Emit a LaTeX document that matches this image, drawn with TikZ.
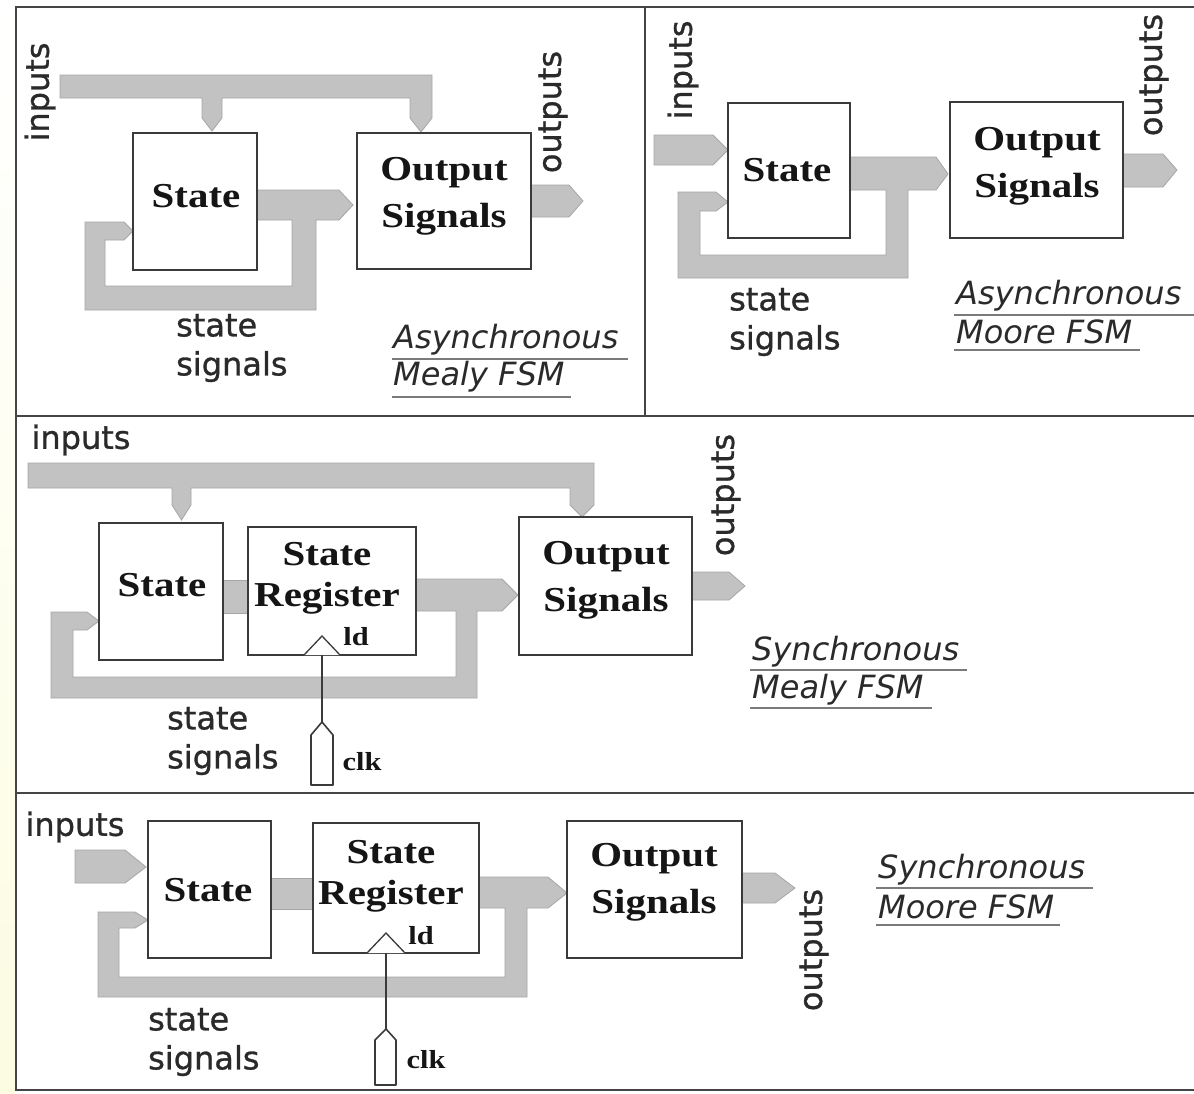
\documentclass[tikz,border=0pt]{standalone}
\usepackage{fontspec}
\setmainfont{Liberation Serif}
\newfontfamily\sansf[FakeBold=0.9]{DejaVu Sans}
\newfontfamily\ttlf{DejaVu Sans}
\newfontfamily\boxf[FakeStretch=1.17]{Liberation Serif}
\definecolor{busgray}{HTML}{C2C2C2}
\definecolor{busedge}{HTML}{A6A6A6}
\definecolor{boxc}{HTML}{3A3A3A}
\definecolor{framec}{HTML}{454545}
\definecolor{txt}{HTML}{151515}
\definecolor{txtb}{HTML}{2A2A2A}
\definecolor{ulc}{HTML}{7A7A7A}
\tikzset{
  bus/.style={fill=busgray, draw=busedge, line width=0.8pt, line join=miter},
  blk/.style={draw=boxc, line width=2pt, fill=white, inner sep=0pt},
  blktxt/.style={font=\boxf\bfseries\fontsize{35}{47}\selectfont, align=center, text=txt, inner sep=0pt},
  regtxt/.style={font=\boxf\bfseries\fontsize{35}{41}\selectfont, align=center, text=txt, inner sep=0pt},
  lbl/.style={font=\sansf\fontsize{32}{39}\selectfont, text=txtb, inner sep=0pt, align=left},
  ttl/.style={font=\ttlf\itshape\fontsize{32}{38}\selectfont, text=txtb, inner sep=0pt, anchor=west},
  smalltxt/.style={font=\boxf\bfseries\fontsize{26}{30}\selectfont, text=txt, inner sep=0pt},
  uline/.style={draw=ulc, line width=1.8pt},
  frame/.style={draw=framec, line width=2.5pt},
  clkline/.style={draw=boxc, line width=1.3pt},
  clkpin/.style={draw=boxc, line width=1.6pt, fill=white, line join=round},
}
\begin{document}
\begin{tikzpicture}[x=1pt,y=-1pt]
\useasboundingbox (0,0) rectangle (1194,1093);
\fill[white] (0,0) rectangle (1194,1093);
\shade[top color=white, middle color={rgb,255:red,226;green,242;blue,248}, bottom color={rgb,255:red,252;green,252;blue,226}] (0,0) rectangle (15,1093);

% ---------- frame ----------
\draw[frame] (16,7) -- (1194,7);
\draw[frame] (16,6) -- (16,1091);
\draw[frame] (16,1090) -- (1194,1090);
\draw[frame] (16,416) -- (1194,416);
\draw[frame] (16,793) -- (1194,793);
\draw[frame] (645,7) -- (645,416);

% ================= Panel 1: Asynchronous Mealy =================
\draw[bus] (60,75) -- (432,75) -- (432,118) -- (421,132) -- (410,118) -- (410,98)
  -- (222,98) -- (222,118) -- (212,131) -- (202,118) -- (202,98) -- (60,98) -- cycle;
\draw[bus] (257,190) -- (339,190) -- (353,205) -- (339,220) -- (316,220) -- (316,310)
  -- (85,310) -- (85,222) -- (124,222) -- (133,231) -- (124,240) -- (105,240)
  -- (105,286) -- (292,286) -- (292,220) -- (257,220) -- cycle;
\draw[bus] (531,185) -- (569,185) -- (583,201) -- (569,217) -- (531,217) -- cycle;
\node[blk, minimum width=124, minimum height=137] (st1) at (195,201.5) {};
\node[blk, minimum width=174, minimum height=136] (out1) at (444,201) {};
\node[blktxt] (st1t) at (196,196) {State};
\node[blktxt] (out1t) at (444,196) {Output\\Signals};
\node[lbl, rotate=90] (in1) at (40,92) {inputs};
\node[lbl, rotate=90] (o1) at (553,112) {outputs};
\node[lbl, anchor=west] (ss1) at (176,348) {state\\signals};
\node[ttl] (t1a) at (393,340) {Asynchronous};
\node[ttl] (t1b) at (393,377) {Mealy FSM};
\draw[uline] (392,359) -- (628,359);
\draw[uline] (392,397) -- (571,397);

% ================= Panel 2: Asynchronous Moore =================
\draw[bus] (654,135) -- (713,135) -- (728,150) -- (713,165) -- (654,165) -- cycle;
\draw[bus] (850,157) -- (936,157) -- (948,174) -- (936,190) -- (908,190) -- (908,278)
  -- (678,278) -- (678,192) -- (716,192) -- (728,202) -- (716,211) -- (700,211)
  -- (700,255) -- (886,255) -- (886,190) -- (850,190) -- cycle;
\draw[bus] (1123,154) -- (1163,154) -- (1177,170) -- (1163,187) -- (1123,187) -- cycle;
\node[blk, minimum width=122, minimum height=135] (st2) at (789,170.5) {};
\node[blk, minimum width=173, minimum height=136] (out2) at (1036.5,170) {};
\node[blktxt] (st2t) at (787,170) {State};
\node[blktxt] (out2t) at (1037,166) {Output\\Signals};
\node[lbl, rotate=90] (in2) at (683,70) {inputs};
\node[lbl, rotate=90] (o2) at (1154,75) {outputs};
\node[lbl, anchor=west] (ss2) at (729,322) {state\\signals};
\node[ttl] (t2a) at (956,296) {Asynchronous};
\node[ttl] (t2b) at (956,332) {Moore FSM};
\draw[uline] (954,315) -- (1194,315);
\draw[uline] (954,350) -- (1140,350);

% ================= Panel 3: Synchronous Mealy =================
\draw[bus] (28,463) -- (594,463) -- (594,505) -- (582,517) -- (570,505) -- (570,488)
  -- (191,488) -- (191,505) -- (181.5,520) -- (172,505) -- (172,488) -- (28,488) -- cycle;
\draw[bus] (223,580) -- (250,580) -- (250,613) -- (223,613) -- cycle;
\draw[bus] (416,579) -- (502,579) -- (518,595) -- (502,611) -- (477,611) -- (477,698)
  -- (51,698) -- (51,612) -- (87,612) -- (99,621) -- (87,630) -- (73,630)
  -- (73,677) -- (456,677) -- (456,611) -- (416,611) -- cycle;
\draw[bus] (692,572) -- (729,572) -- (745,586) -- (729,600) -- (692,600) -- cycle;
\node[blk, minimum width=124, minimum height=137] (st3) at (161,591.5) {};
\node[blk, minimum width=168, minimum height=128] (rg3) at (332,591) {};
\node[blk, minimum width=173, minimum height=138] (out3) at (605.5,586) {};
\node[blktxt] (st3t) at (162,585) {State};
\node[regtxt] (rg3t) at (327,578) {State\\Register};
\node[blktxt] (out3t) at (606,580) {Output\\Signals};
\draw[clkline, fill=white] (304,655) -- (322,636) -- (340,655);
\node[smalltxt] (ld3) at (356,637) {ld};
\coordinate (ck3top) at (322,655);
\coordinate (pin3) at (322,722);
\draw[clkline] (ck3top) -- (pin3);
\draw[clkpin] (pin3) -- (333,735) -- (333,785) -- (311,785) -- (311,735) -- cycle;
\node[smalltxt] (clk3) at (362,762) {clk};
\node[lbl] (in3) at (81,440) {inputs};
\node[lbl, rotate=90] (o3) at (726,495) {outputs};
\node[lbl, anchor=west] (ss3) at (167,741) {state\\signals};
\node[ttl] (t3a) at (752,652) {Synchronous};
\node[ttl] (t3b) at (752,690) {Mealy FSM};
\draw[uline] (750,670) -- (967,670);
\draw[uline] (750,708) -- (932,708);

% ================= Panel 4: Synchronous Moore =================
\draw[bus] (75,850) -- (125,850) -- (146,867) -- (125,883) -- (75,883) -- cycle;
\draw[bus] (271,878) -- (315,878) -- (315,909) -- (271,909) -- cycle;
\draw[bus] (479,877) -- (548,877) -- (567,893) -- (548,908) -- (527,908) -- (527,997)
  -- (98,997) -- (98,912) -- (135,912) -- (148,920) -- (135,928) -- (119,928)
  -- (119,977) -- (505,977) -- (505,908) -- (479,908) -- cycle;
\draw[bus] (742,873) -- (775,873) -- (795,888) -- (775,903) -- (742,903) -- cycle;
\node[blk, minimum width=123, minimum height=137] (st4) at (209.5,889.5) {};
\node[blk, minimum width=166, minimum height=130] (rg4) at (396,888) {};
\node[blk, minimum width=175, minimum height=137] (out4) at (654.5,889.5) {};
\node[blktxt] (st4t) at (208,890) {State};
\node[regtxt] (rg4t) at (391,876) {State\\Register};
\node[blktxt] (out4t) at (654,882) {Output\\Signals};
\draw[clkline, fill=white] (367,953) -- (386,933) -- (405,953);
\node[smalltxt] (ld4) at (421,936) {ld};
\coordinate (ck4top) at (386,953);
\coordinate (pin4) at (386,1029);
\draw[clkline] (ck4top) -- (pin4);
\draw[clkpin] (pin4) -- (396,1040) -- (396,1085) -- (375,1085) -- (375,1040) -- cycle;
\node[smalltxt] (clk4) at (426,1060) {clk};
\node[lbl] (in4) at (75,827) {inputs};
\node[lbl, rotate=90] (o4) at (814,950) {outputs};
\node[lbl, anchor=west] (ss4) at (148,1042) {state\\signals};
\node[ttl] (t4a) at (878,870) {Synchronous};
\node[ttl] (t4b) at (878,907) {Moore FSM};
\draw[uline] (876,888) -- (1093,888);
\draw[uline] (876,925) -- (1060,925);
\end{tikzpicture}
\end{document}
